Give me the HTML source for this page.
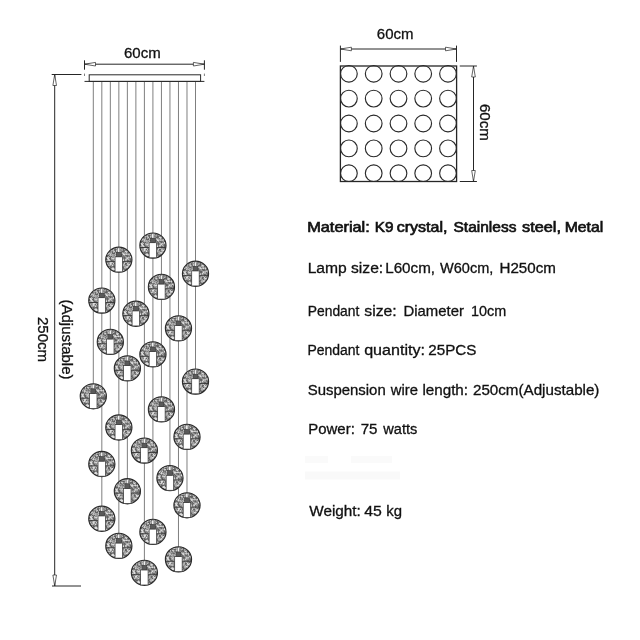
<!DOCTYPE html>
<html><head><meta charset="utf-8"><title>Lamp size</title>
<style>
html,body{margin:0;padding:0;background:#fff;}
body{width:640px;height:640px;overflow:hidden;font-family:"Liberation Sans",Arial,sans-serif;}
svg{display:block;will-change:transform;}
text{font-family:"Liberation Sans",Arial,sans-serif;font-size:15px;fill:#111;stroke:#111;stroke-width:0.3px;}
.r{font-size:14.4px;}
.b{font-size:14.4px;stroke-width:0.65px;}
</style></head><body>
<svg width="640" height="640" viewBox="0 0 640 640">
<defs>
<filter id="nz" x="0" y="0" width="1" height="1" color-interpolation-filters="sRGB">
<feTurbulence type="fractalNoise" baseFrequency="0.45" numOctaves="2" seed="7" result="t"/>
<feColorMatrix in="t" type="matrix" values="0 0 0 0 0  0 0 0 0 0  0 0 0 0 0  3 0 0 0 -1.05" result="a0"/>
<feGaussianBlur in="a0" stdDeviation="0.35" result="a"/>
<feFlood flood-color="#dedede"/>
<feComposite in2="a" operator="in" result="spots"/>
<feMerge><feMergeNode in="SourceGraphic"/><feMergeNode in="spots"/></feMerge>
<feComposite in2="SourceGraphic" operator="in"/>
</filter>
<g id="ball">
<ellipse rx="13.3" ry="12.8" fill="#606060" filter="url(#nz)"/>
<ellipse rx="13.1" ry="12.6" fill="none" stroke="#2a2a2a" stroke-width="1.1"/>
<line x1="-13" y1="1.9" x2="13" y2="1.9" stroke="#333" stroke-width="0.9"/>
<rect x="-1.2" y="-11.8" width="2.2" height="4.4" fill="#f0f0f0" stroke="#555" stroke-width="0.5"/>
<rect x="-3.8" y="-2.9" width="7.5" height="15.1" fill="#fff" stroke="#3a3a3a" stroke-width="0.75"/>
<rect x="-2.5" y="-7.4" width="4.9" height="4.5" fill="#5a5a5a" stroke="#333" stroke-width="0.5"/>
</g>
<path id="ah" d="M0 0 L11 -1.8 L11 1.8 Z" fill="#fff" stroke="#222" stroke-width="0.7"/>
</defs>
<rect width="640" height="640" fill="#fff"/>

<rect x="305" y="456" width="23" height="7" fill="#fafafa"/><rect x="351" y="456" width="41" height="7" fill="#fafafa"/><rect x="305" y="471.5" width="95" height="8" fill="#f9f9f9"/>
<g stroke="#707070" stroke-width="0.9">
<line x1="93.30" y1="82" x2="93.30" y2="386.3"/>
<line x1="101.82" y1="82" x2="101.82" y2="508.8"/>
<line x1="110.33" y1="82" x2="110.33" y2="331.9"/>
<line x1="118.85" y1="82" x2="118.85" y2="535.9"/>
<line x1="127.37" y1="82" x2="127.37" y2="481.2"/>
<line x1="135.88" y1="82" x2="135.88" y2="303.8"/>
<line x1="144.40" y1="82" x2="144.40" y2="562.8"/>
<line x1="152.92" y1="82" x2="152.92" y2="521.9"/>
<line x1="161.44" y1="82" x2="161.44" y2="399.4"/>
<line x1="169.95" y1="82" x2="169.95" y2="468.1"/>
<line x1="178.47" y1="82" x2="178.47" y2="549.4"/>
<line x1="186.99" y1="82" x2="186.99" y2="495.3"/>
<line x1="195.50" y1="82" x2="195.50" y2="371.6"/>
</g>
<rect x="89.2" y="74.8" width="111.4" height="6.6" fill="#fff" stroke="#2a2a2a" stroke-width="1"/><line x1="84.5" y1="81.4" x2="204.4" y2="81.4" stroke="#2a2a2a" stroke-width="1"/>
<use href="#ball" x="152.92" y="245.60"/>
<use href="#ball" x="118.85" y="259.70"/>
<use href="#ball" x="195.50" y="273.75"/>
<use href="#ball" x="161.44" y="286.90"/>
<use href="#ball" x="101.82" y="300.60"/>
<use href="#ball" x="135.88" y="313.75"/>
<use href="#ball" x="178.47" y="328.40"/>
<use href="#ball" x="110.33" y="341.90"/>
<use href="#ball" x="152.92" y="354.40"/>
<use href="#ball" x="127.37" y="368.40"/>
<use href="#ball" x="195.50" y="381.60"/>
<use href="#ball" x="93.30" y="396.30"/>
<use href="#ball" x="161.44" y="409.40"/>
<use href="#ball" x="118.85" y="427.50"/>
<use href="#ball" x="186.99" y="436.90"/>
<use href="#ball" x="144.40" y="450.60"/>
<use href="#ball" x="101.82" y="464.00"/>
<use href="#ball" x="169.95" y="478.10"/>
<use href="#ball" x="127.37" y="491.25"/>
<use href="#ball" x="186.99" y="505.30"/>
<use href="#ball" x="101.82" y="518.75"/>
<use href="#ball" x="152.92" y="531.90"/>
<use href="#ball" x="118.85" y="545.90"/>
<use href="#ball" x="178.47" y="559.40"/>
<use href="#ball" x="144.40" y="572.80"/>
<g stroke="#262626" stroke-width="1" fill="none">
<line x1="84.5" y1="64.2" x2="204.4" y2="64.2"/>
<line x1="84.5" y1="60.3" x2="84.5" y2="69.7"/><line x1="204.4" y1="60.3" x2="204.4" y2="69.7"/>
<line x1="84.5" y1="73.6" x2="84.5" y2="76" stroke-width="0.6"/><line x1="204.4" y1="73.6" x2="204.4" y2="76" stroke-width="0.6"/>
<line x1="54.7" y1="74.5" x2="54.7" y2="586"/>
<line x1="51.7" y1="74.5" x2="81.4" y2="74.5"/><line x1="52" y1="586" x2="81" y2="586"/>
<line x1="340.4" y1="49" x2="456.5" y2="49"/>
<line x1="340.4" y1="45.6" x2="340.4" y2="61.9"/><line x1="456.5" y1="45.6" x2="456.5" y2="61.9"/>
<line x1="473.5" y1="66" x2="473.5" y2="181.5"/>
<line x1="459.75" y1="66" x2="476.9" y2="66"/><line x1="459.75" y1="181.5" x2="476.9" y2="181.5"/>
<rect x="340.4" y="66" width="116.2" height="115.5" stroke-width="1.3"/>
</g>
<use href="#ah" x="84.5" y="64.2"/><use href="#ah" transform="translate(204.4 64.2) rotate(180)"/>
<use href="#ah" transform="translate(54.7 74.5) rotate(90)"/><use href="#ah" transform="translate(54.7 586) rotate(-90)"/>
<use href="#ah" x="340.4" y="49"/><use href="#ah" transform="translate(456.5 49) rotate(180)"/>
<use href="#ah" transform="translate(473.5 66) rotate(90)"/><use href="#ah" transform="translate(473.5 181.5) rotate(-90)"/>
<g stroke="#2a2a2a" stroke-width="1.15" fill="none">
<circle cx="348.9" cy="73.8" r="8.35"/>
<circle cx="373.7" cy="73.8" r="8.35"/>
<circle cx="398.5" cy="73.8" r="8.35"/>
<circle cx="423.2" cy="73.8" r="8.35"/>
<circle cx="448.0" cy="73.8" r="8.35"/>
<circle cx="348.9" cy="98.6" r="8.35"/>
<circle cx="373.7" cy="98.6" r="8.35"/>
<circle cx="398.5" cy="98.6" r="8.35"/>
<circle cx="423.2" cy="98.6" r="8.35"/>
<circle cx="448.0" cy="98.6" r="8.35"/>
<circle cx="348.9" cy="123.5" r="8.35"/>
<circle cx="373.7" cy="123.5" r="8.35"/>
<circle cx="398.5" cy="123.5" r="8.35"/>
<circle cx="423.2" cy="123.5" r="8.35"/>
<circle cx="448.0" cy="123.5" r="8.35"/>
<circle cx="348.9" cy="148.4" r="8.35"/>
<circle cx="373.7" cy="148.4" r="8.35"/>
<circle cx="398.5" cy="148.4" r="8.35"/>
<circle cx="423.2" cy="148.4" r="8.35"/>
<circle cx="448.0" cy="148.4" r="8.35"/>
<circle cx="348.9" cy="173.2" r="8.35"/>
<circle cx="373.7" cy="173.2" r="8.35"/>
<circle cx="398.5" cy="173.2" r="8.35"/>
<circle cx="423.2" cy="173.2" r="8.35"/>
<circle cx="448.0" cy="173.2" r="8.35"/>
</g>
<text x="142.3" y="58" text-anchor="middle">60cm</text>
<text x="395.2" y="39.4" text-anchor="middle">60cm</text>
<text transform="translate(480.3 122.3) rotate(90)" text-anchor="middle">60cm</text>
<text transform="translate(38.3 339.5) rotate(90)" text-anchor="middle">250cm</text>
<text transform="translate(62 339.5) rotate(90)" text-anchor="middle">(Adjustable)</text>

<text class="b" transform="translate(307.15 232.2) scale(1.1355 1)">Material:</text>
<text class="b" transform="translate(374.7 232.2) scale(1.0606 1)">K9</text>
<text class="b" transform="translate(396.72 232.2) scale(1.113 1)">crystal,</text>
<text class="b" transform="translate(453.48 232.2) scale(1.0776 1)">Stainless</text>
<text class="b" transform="translate(522.0 232.2) scale(1.1343 1)">steel,</text>
<text class="b" transform="translate(564.68 232.2) scale(1.0963 1)">Metal</text>
<text class="r" transform="translate(307.66 273) scale(1.087 1)">Lamp</text>
<text class="r" transform="translate(350.98 273) scale(1.0885 1)">size:</text>
<text class="r" transform="translate(385.19 273) scale(1.0556 1)">L60cm,</text>
<text class="r" transform="translate(440.0 273) scale(1.0097 1)">W60cm,</text>
<text class="r" transform="translate(499.45 273) scale(1.0531 1)">H250cm</text>
<text class="r" transform="translate(307.79 315.7) scale(0.9621 1)">Pendant</text>
<text class="r" transform="translate(364.23 315.7) scale(1.0973 1)">size:</text>
<text class="r" transform="translate(403.47 315.7) scale(1.0349 1)">Diameter</text>
<text class="r" transform="translate(471.0 315.7) scale(1.0 1)">10cm</text>
<text class="r" transform="translate(307.43 354.6) scale(0.9706 1)">Pendant</text>
<text class="r" transform="translate(364.14 354.6) scale(1.1185 1)">quantity:</text>
<text class="r" transform="translate(428.27 354.6) scale(1.0562 1)">25PCS</text>
<text class="r" transform="translate(307.73 394.6) scale(1.0372 1)">Suspension</text>
<text class="r" transform="translate(390.76 394.6) scale(1.0286 1)">wire</text>
<text class="r" transform="translate(422.41 394.6) scale(1.057 1)">length:</text>
<text class="r" transform="translate(472.97 394.6) scale(1.0543 1)">250cm(Adjustable)</text>
<text class="r" transform="translate(308.21 434.4) scale(1.0409 1)">Power:</text>
<text class="r" transform="translate(360.72 434.4) scale(1.05 1)">75</text>
<text class="r" transform="translate(383.25 434.4) scale(1.0149 1)">watts</text>
<text class="r" transform="translate(309.25 515.7) scale(1.0635 1)">Weight:</text>
<text class="r" transform="translate(364.23 515.7) scale(1.0984 1)">45</text>
<text class="r" transform="translate(386.22 515.7) scale(1.0364 1)">kg</text>

</svg></body></html>
